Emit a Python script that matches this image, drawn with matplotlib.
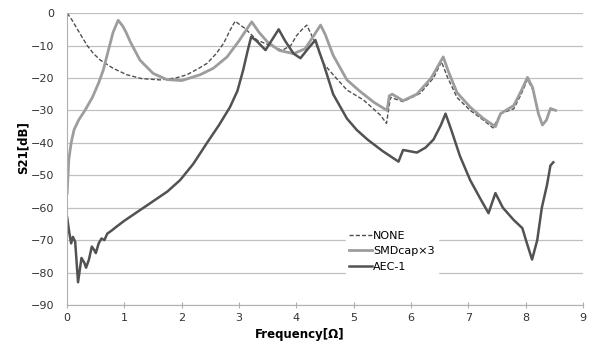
import matplotlib.pyplot as plt

# NONE (dashed)
none_x = [0, 0.08, 0.14, 0.23, 0.35, 0.46, 0.58, 0.8, 1.04, 1.3, 1.62, 1.9, 2.09, 2.3, 2.44,
          2.6, 2.73, 2.85, 2.93, 3.1, 3.31, 3.6, 3.75, 3.9, 4.0, 4.1, 4.18, 4.36, 4.47, 4.64,
          4.88, 5.17, 5.46, 5.57, 5.64, 5.86, 6.16, 6.39, 6.53, 6.63, 6.8, 7.03, 7.26, 7.43,
          7.56, 7.79, 7.92, 8.03, 8.12, 8.22, 8.29, 8.36, 8.43, 8.52]
none_y = [0, -2, -3.8, -6.5, -10, -12.5, -14.5, -17, -19, -20.2, -20.6, -20, -19, -17, -15.5,
          -12.5, -9.3, -5, -2.5, -4.7, -8.3, -10.4, -11.5, -10, -7, -5, -3.7, -10.4, -15.5,
          -19, -23.7, -26.8, -31.4, -34, -26, -27.3, -24.7, -20, -15, -19.6, -26, -30, -33,
          -35.4, -31, -29.5, -25, -20.5, -23.5, -31, -34.5, -33, -29.6, -30.3]

# SMDcap x3
smd_x = [0, 0.03, 0.07, 0.12, 0.2, 0.31, 0.44, 0.55, 0.63, 0.72, 0.8, 0.89, 0.97, 1.03, 1.1,
         1.27, 1.5, 1.74, 2.0, 2.32, 2.55, 2.79, 3.0, 3.15, 3.22, 3.35, 3.5, 3.7, 3.95, 4.15,
         4.3, 4.42, 4.5, 4.64, 4.88, 5.1, 5.35, 5.58, 5.62, 5.67, 5.86, 6.1, 6.35, 6.56,
         6.65, 6.8, 7.03, 7.26, 7.47, 7.56, 7.79, 7.92, 8.03, 8.12, 8.22, 8.29, 8.36, 8.43,
         8.52]
smd_y = [-55.5, -45, -40, -36, -33, -30, -26, -21.5, -17.6, -11.4, -6, -2.2, -4, -6, -8.8,
         -14.5, -18.6, -20.5, -20.8, -19, -17, -13.5, -8.5, -4.5, -2.7, -6, -9, -11.5, -12.5,
         -11, -7, -3.7, -6.5, -13, -20.6, -24, -27.5, -30, -25.5, -25, -27, -25, -20, -13.5,
         -18, -24.5, -29, -32.5, -35, -31, -28.5, -24, -19.8, -23, -31, -34.5, -33, -29.4,
         -30]

# AEC-1
aec_x = [0, 0.04, 0.07, 0.1, 0.14, 0.19, 0.25, 0.3, 0.33, 0.38, 0.43, 0.47, 0.5, 0.55, 0.6,
         0.65, 0.7, 0.78, 0.85, 1.0, 1.25, 1.5, 1.75, 1.97, 2.2, 2.44, 2.65, 2.84, 2.97, 3.07,
         3.15, 3.21, 3.3, 3.46, 3.6, 3.69, 3.8, 3.95, 4.07, 4.2, 4.33, 4.4, 4.47, 4.64, 4.88,
         5.05, 5.24, 5.5, 5.78, 5.86, 6.1, 6.25, 6.39, 6.52, 6.6, 6.7, 6.85, 7.03, 7.2, 7.35,
         7.47, 7.6, 7.79, 7.94, 8.02, 8.11, 8.2, 8.28, 8.37, 8.43, 8.48]
aec_y = [-63, -68, -71, -69, -70.5, -83, -75.5, -77, -78.5, -76, -72, -73, -74, -71, -69.5,
         -70, -68, -67, -66, -64, -61, -58, -55, -51.5, -46.5, -40, -34.5, -29, -24, -17.6,
         -11.5, -7.3, -8.5, -11.4, -7.5, -5, -8.5, -12.5, -13.9, -11, -8.3, -12, -15.5, -25,
         -32.5, -36, -39, -42.5, -45.8, -42.2, -43, -41.5, -39, -34.5, -31, -36, -44, -51.5,
         -57, -61.7, -55.5, -60, -63.8, -66.3, -71, -76, -70, -60, -53, -47, -46]

x_ticks = list(range(0, 10))
y_ticks = list(range(-90, 1, 10))

fig = plt.figure(figsize=(5.89, 3.45), dpi=100)
ax = fig.add_axes([0.114, 0.116, 0.876, 0.846])

ax.plot(none_x, none_y, color="#505050", lw=1.0, ls=(0, (3, 1.5)), label="NONE")
ax.plot(smd_x, smd_y, color="#9d9d9d", lw=2.0, label="SMDcap\u00d73")
ax.plot(aec_x, aec_y, color="#525252", lw=1.8, label="AEC-1")

ax.set_xlim(0, 9)
ax.set_ylim(-90, 0)
ax.set_xticks(x_ticks)
ax.set_yticks(y_ticks)
ax.grid(axis="y", color="#c0c0c0", lw=0.9)
ax.set_axisbelow(True)
for s in ["top", "right"]:
    ax.spines[s].set_visible(False)
for s in ["left", "bottom"]:
    ax.spines[s].set_color("#b0b0b0")
ax.tick_params(axis="x", direction="inout", length=5, color="#b0b0b0",
               labelsize=8, labelcolor="#333333", pad=3)
ax.tick_params(axis="y", length=0, labelsize=8, labelcolor="#333333", pad=9)

ax.set_xlabel("Frequency[\u03a9]", fontsize=8.5, fontweight="bold")
ax.xaxis.set_label_coords(0.451, -0.078)
ax.set_ylabel("S21[dB]", fontsize=8.5, fontweight="bold")
ax.yaxis.set_label_coords(-0.072, 0.54)

leg = ax.legend(loc="upper left", bbox_to_anchor=(0.53, 0.285), frameon=True,
                fontsize=8, handlelength=2.0, handletextpad=0.1, labelspacing=0.5,
                borderpad=0.3)
leg.get_frame().set_edgecolor("white")
leg.get_frame().set_facecolor("white")
leg.get_frame().set_alpha(1)

fig.savefig("out.png", dpi=100)
